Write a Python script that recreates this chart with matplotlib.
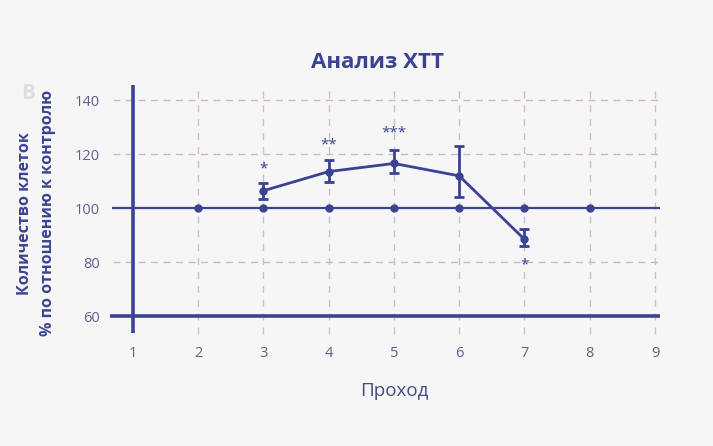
import numpy as np
import matplotlib.pyplot as plt

# data
passages = [3, 4, 5, 6, 7]
cell_pct = [106.4, 113.5, 116.5, 111.9, 88.4]
err_low = [3.0, 4.0, 3.7, 7.9, 2.3]
err_high = [2.7, 4.3, 5.0, 11.1, 3.8]
control_x = [2, 3, 4, 5, 6, 7, 8]
control_y = [100] * len(control_x)
stars = ["*", "**", "***", "", "*"]
star_y = [114.5, 123.5, 127.8, None, 79.0]
xticks = list(range(1, 10))
yticks = [60, 80, 100, 120, 140]

navy = "#3b4293"
grid_c = "#d6b3c3"
label_c = "#5c6090"

plt.rcParams['font.family'] = ['Open Sans', 'DejaVu Sans']

fig = plt.figure(figsize=(7.13, 4.46), dpi=100)
fig.patch.set_facecolor("#f6f6f6")
ax = fig.add_axes([0.159, 0.2309, 0.7871, 0.6054])
ax.set_facecolor("none")
ax.set_xlim(0.7, 9.3)
ax.set_ylim(50, 150)
for s in ax.spines.values():
    s.set_visible(False)

# grid
for y in [80, 120, 140]:
    ax.hlines(y, 0.7, 9.08, colors=grid_c, linestyles=(0, (5, 4)), lw=1)
for x in xticks[1:]:
    ax.vlines(x, 53.5, 145.5, colors="#cdbfc8", linestyles=(0, (5, 5)), lw=1)

# axes lines
ax.vlines(1, 53.7, 145.7, colors=navy, lw=2.6, zorder=3)
ax.hlines(60, 0.65, 9.08, colors=navy, lw=2.6, zorder=3, clip_on=False)
ax.hlines(100, 0.68, 9.08, colors=navy, lw=1.6, zorder=3, clip_on=False)

ax.plot(control_x, control_y, 'o', color=navy, ms=5, zorder=4)
ax.errorbar(passages, cell_pct, yerr=[err_low, err_high], color=navy, lw=2,
            marker='o', ms=5, capsize=3.5, capthick=2, elinewidth=2, zorder=5)

for x, s, y in zip(passages, stars, star_y):
    if s:
        ax.text(x, y, s, ha='center', va='center', fontsize=11, color=navy)

ax.set_xticks(xticks)
ax.set_yticks(yticks)
ax.tick_params(length=0, labelsize=10.5, labelcolor=label_c)
ax.tick_params(axis='x', pad=2)
ax.tick_params(axis='y', pad=9.5)

ax.set_xlabel("Проход", fontsize=13.5, color="#464b86", labelpad=15)
fig.text(0.53, 0.859, "Анализ ХТТ", ha='center', va='center', fontsize=16,
         fontweight='bold', color=navy)
fig.text(0.035, 0.522, "Количество клеток", rotation=90, ha='center',
         va='center', fontsize=11.5, fontweight='bold', color=navy)
fig.text(0.067, 0.522, "% по отношению к контролю", rotation=90, ha='center',
         va='center', fontsize=11.5, fontweight='bold', color=navy)
fig.text(0.04, 0.79, "B", ha='center', va='center', fontsize=15,
         fontweight='bold', color="#e4dbe2")

fig.savefig("out.png", dpi=100, facecolor=fig.get_facecolor())
